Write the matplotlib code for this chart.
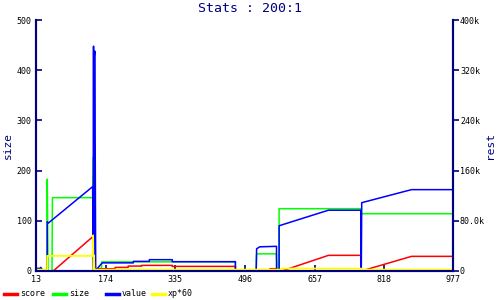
import matplotlib.pyplot as plt
from matplotlib.lines import Line2D

# 数据（x 为记录编号，size 用左轴，其余用右轴）
size_x = [13, 38, 39, 40, 41, 50, 51, 144, 145, 147, 148, 164, 165, 474, 474, 522, 523, 569, 569, 570, 570, 575, 575, 764, 765, 977]
size_y = [0, 0, 183, 91, 0, 0, 146, 146, 226, 226, 0, 0, 18, 18, 0, 0, 34, 34, 26, 18, 0, 0, 124, 124, 114, 114]

score_x = [13, 53, 144, 145, 151, 152, 196, 196, 226, 226, 257, 257, 328, 328, 474, 474, 531, 531, 554, 554, 569, 569, 582, 689, 764, 764, 765, 766, 881, 977]
score_y = [0, 0, 54400, 0, 0, 3500, 3500, 5600, 5600, 7700, 7700, 8800, 8800, 7200, 7200, 0, 0, 1900, 1900, 3500, 3500, 0, 0, 24800, 24800, 11500, 0, 0, 23200, 23200]

value_x = [13, 22, 24, 26, 27, 39, 39, 41, 144, 145, 146, 147, 148, 149, 151, 154, 164, 166, 238, 238, 275, 275, 328, 328, 474, 474, 522, 523, 530, 569, 569, 575, 575, 689, 764, 764, 765, 766, 881, 977]
value_y = [4000, 4000, 5600, 4000, 0, 0, 78400, 76000, 134400, 0, 358400, 0, 342400, 350400, 0, 3200, 11200, 12800, 12800, 15200, 15200, 17900, 17900, 14700, 14700, 0, 0, 35200, 38400, 39200, 0, 0, 72000, 96800, 96800, 48800, 0, 108800, 129600, 129600]

xp_x = [13, 39, 39, 144, 145, 146, 147, 148, 150, 581, 581, 764, 764, 977]
xp_y = [2000, 2000, 24000, 24000, 56800, 0, 24800, 0, 2000, 2000, 3800, 3800, 2000, 2000]

x_ticks = [13, 174, 335, 496, 657, 818, 977]
left_ticks = [0, 100, 200, 300, 400, 500]
right_ticks = [0, 80000, 160000, 240000, 320000, 400000]
right_labels = ['0', '80.0k', '160k', '240k', '320k', '400k']

NAVY = '#000080'
MONO = 'DejaVu Sans Mono'

fig = plt.figure(figsize=(5, 3), dpi=100)
ax = fig.add_axes([0.072, 0.097, 0.834, 0.836])
ax2 = ax.twinx()

ax.plot(size_x, size_y, color='#00ff00', lw=1.1)
ax2.plot(score_x, score_y, color='#ff0000', lw=1.1)
ax2.plot(value_x, value_y, color='#0000ff', lw=1.1)
ax2.plot(xp_x, xp_y, color='#ffff00', lw=1.3)

ax.set_xlim(13, 977)
ax.set_ylim(0, 500)
ax2.set_ylim(0, 400000)
ax.set_xticks(x_ticks)
ax.set_xticklabels([str(t) for t in x_ticks], fontfamily=MONO, fontsize=6)
ax.set_yticks(left_ticks)
ax.set_yticklabels([str(t) for t in left_ticks], fontfamily=MONO, fontsize=6)
ax2.set_yticks(right_ticks)
ax2.set_yticklabels(right_labels, fontfamily=MONO, fontsize=6)

for a in (ax, ax2):
    a.spines['top'].set_visible(False)
    for s in ('left', 'right', 'bottom'):
        a.spines[s].set_color(NAVY)
        a.spines[s].set_linewidth(1.5)
ax.tick_params(axis='x', direction='in', length=4, width=1.2, color=NAVY, pad=3)
ax.tick_params(axis='y', direction='in', length=4, width=1.2, color=NAVY, pad=3)
ax2.tick_params(axis='y', direction='out', length=4, width=1.2, color=NAVY, pad=1)

ax.set_ylabel('size', fontfamily=MONO, fontsize=8, color=NAVY, labelpad=3)
ax2.set_ylabel('rest', fontfamily=MONO, fontsize=8, color=NAVY, labelpad=0)
fig.text(0.5, 0.972, 'Stats : 200:1', ha='center', va='center',
         fontfamily=MONO, fontsize=9.5, color=NAVY)

# 图例
legend_items = [('score', '#ff0000', 0.008), ('size', '#00ff00', 0.106),
                ('value', '#0000ff', 0.212), ('xp*60', '#ffff00', 0.304)]
ly = 1 - 294 / 300
for name, col, x0 in legend_items:
    fig.add_artist(Line2D([x0, x0 + 0.026], [ly, ly], color=col, lw=2.5,
                          transform=fig.transFigure))
    fig.text(x0 + 0.032, ly, name, ha='left', va='center',
             fontfamily=MONO, fontsize=6)

fig.savefig('out.png', dpi=100)
